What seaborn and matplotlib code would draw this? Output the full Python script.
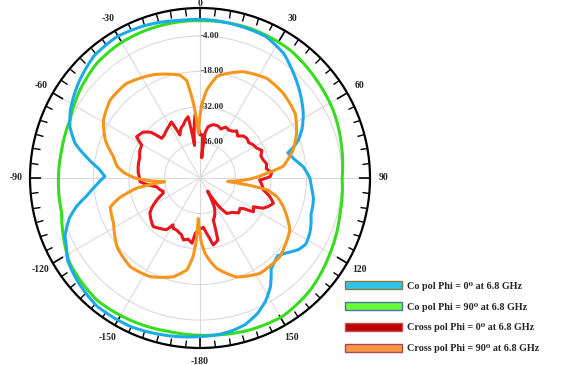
import numpy as np
import pandas as pd
import matplotlib
matplotlib.use('Agg')
import matplotlib.pyplot as plt
import matplotlib.transforms as mtransforms
from matplotlib.patches import Patch
import seaborn as sns

# ---------------- data (angle in degrees, level in dB) ----------------
co0_ang = [-180, -167, -155, -141, -130, -122, -117, -113, -107, -103, -99, -94, -89, -85, -80,
           -74.5, -68.5, -62, -52, -41, -30.5, -19, -7, 0, 7, 15, 25, 34, 41, 50, 58, 64, 69,
           72, 74, 76, 79, 84, 90, 95, 100, 104, 108, 113, 117, 122, 126, 131, 135, 139, 142,
           147, 152, 157, 163, 168, 174, 180]
co0_val = [2.5, 3.5, 4.6, 4.8, 3.1, 1.5, -0.9, -2.2, -6.2, -10.0, -14.8, -19.0, -22.5, -20.2, -15.0,
           -8.9, -4.9, -2.2, 0.8, 3.7, 4.6, 3.8, 2.6, 2.5, 2.3, 1.9, 1.5, -0.9, -4.3, -8.4, -12.0, -15.2, -18.5,
           -21.5, -24.0, -23.3, -22.0, -19.0, -16.7, -15.9, -14.6, -14.2, -14.0, -12.5, -11.5, -10.8, -12.0, -15.0, -16.7, -15.6, -14.5,
           -9.0, -5.0, -2.0, 0.5, 1.5, 2.2, 2.5]

co90_ang = [-180, -169, -154, -140, -123, -113, -104, -90, -79, -66, -54, -42, -31, -20, -7, 0,
            7, 18, 35, 50, 63, 77, 90, 104, 120, 135, 149, 162, 174, 180]
co90_val = [2.0, 1.7, 2.4, 3.0, 1.3, -1.5, -3.8, -4.2, -4.4, -3.9, -1.4, 0.8, 1.7, 2.0, 2.1, 2.0,
            2.1, 2.2, 1.7, 0.0, -1.1, -2.8, -4.0, -3.1, -0.8, 1.9, 3.5, 3.0, 2.2, 2.0]

x0_ang = [-180, -177, -175, -173, -169, -165, -162, -160, -156, -152, -150, -147, -141, -136, -131,
          -125, -122, -117, -112.5, -110, -106, -101.5, -97, -93.5, -88, -85.5, -79, -71, -66, -60.5,
          -57, -51, -47, -44, -40, -35, -30, -27, -25, -21, -17.5, -14, -11, -9.5, -7, -4.5, -2, 0,
          3.5, 4.8, 6.5, 9, 14, 19, 23, 27, 31, 35, 38, 42, 46, 50, 54, 58, 62, 66, 70, 74, 78, 82,
          86, 89, 92, 96, 100.7, 105, 109, 113, 115.6, 118.3, 122.3, 125, 127.2, 132, 137, 142.9,
          146, 150, 154, 157, 160, 162.4, 164, 168.8, 171, 173.1, 176, 180]
x0_val = [-40.0, -39.0, -38.0, -34.1, -35.5, -34.7, -36.5, -36.8, -37.5, -37.5, -38.7, -35.7, -34.5, -33.4, -34.5,
          -35.9, -37.5, -40.9, -44.3, -44.6, -43.5, -42.6, -39.0, -36.3, -36.0, -35.6, -35.2, -34.9, -34.0, -33.6,
          -30.2, -31.2, -33.6, -38.3, -38.0, -37.0, -36.0, -35.2, -41.3, -39.0, -38.1, -36.5, -35.4, -47.0, -41.0, -35.1, -40.0, -43.0,
          -43.0, -52.0, -42.0, -39.5, -38.3, -38.3, -39.0, -37.5, -38.0, -37.5, -36.5, -37.8, -36.2, -35.8, -36.3, -35.3, -34.8, -33.3, -34.5, -34.1, -33.2, -33.6,
          -31.7, -32.4, -36.5, -35.5, -34.6, -31.5, -29.4, -31.0, -32.5, -36.1, -35.1, -39.0, -40.2, -39.5, -41.5, -42.5,
          -46.0, -54.0, -47.0, -45.0, -43.5, -42.7, -34.5, -33.1, -36.0, -38.0, -40.5, -40.0]

x90_ang = [-180, -177.6, -176.5, -175, -172, -165, -153, -142, -130, -118, -108, -104, -99, -96, -90.5,
           -86, -82, -76, -68, -59, -49, -38, -24, -11, -7.8, -5, -2, 1.3, 4.4, 9.4, 11, 22, 34, 44.5,
           56, 65, 73, 82, 86, 91, 95.5, 97, 98.5, 100, 104, 109, 120, 134.5, 148, 160, 169.5, 172,
           176, 179, 180]
x90_val = [-38.0, -44.0, -35.0, -29.0, -23.5, -19.7, -16.4, -15.5, -17.4, -21.5, -22.8, -27.0, -35.0, -46.0, -35.0,
           -30.0, -27.0, -24.8, -19.7, -15.6, -13.1, -12.8, -15.4, -18.7, -21.2, -30.5, -42.4, -31.2, -25.2, -19.5, -18.7, -14.8, -12.7, -13.2,
           -14.7, -18.0, -21.6, -26.9, -33.7, -40.0, -47.0, -49.0, -40.0, -33.0, -28.5, -25.3, -19.1, -15.8, -15.6, -18.5, -23.8, -26.0,
           -30.0, -35.0, -38.0]

series_names = ["Co pol Phi = 0\u2070 at 6.8 GHz", "Co pol Phi = 90\u2070 at 6.8 GHz",
                "Cross pol Phi = 0\u2070 at 6.8 GHz", "Cross pol Phi = 90\u2070 at 6.8 GHz"]
line_colors = ["#1CAAE8", "#36DC1E", "#E8171D", "#F5951E"]
patch_faces = ["#2EC6E8", "#66FF33", "#C00000", "#F79646"]
patch_edges = ["#8C7B4A", "#4A6FB5", "#C0504D", "#A84850"]

theta_labels = [0, 30, 60, 90, 120, 150, -180, -150, -120, -90, -60, -30]
r_grid = [-46, -32, -18, -4]
r_min, r_max = -60, 7

# ---------------- build table ----------------
frames = []
for name, ang, val in [(series_names[0], co0_ang, co0_val), (series_names[1], co90_ang, co90_val),
                       (series_names[2], x0_ang, x0_val), (series_names[3], x90_ang, x90_val)]:
    frames.append(pd.DataFrame({"theta": np.deg2rad(ang), "r": val, "series": name}))
df = pd.concat(frames, ignore_index=True)

sns.set_theme(style="ticks")
plt.rcParams['font.family'] = ['Liberation Serif', 'DejaVu Serif']
plt.rcParams['font.weight'] = 'bold'

W, H = 569, 365
fig = plt.figure(figsize=(W / 100, H / 100), dpi=100)
cx, cy, R = 200, 178, 170
ax = fig.add_axes([(cx - R) / W, (H - cy - R) / H, 2 * R / W, 2 * R / H], projection='polar')
ax.set_theta_zero_location('N')
ax.set_theta_direction(-1)

draw_order = [series_names[1], series_names[0], series_names[2], series_names[3]]
pal = dict(zip(series_names, line_colors))
for nm in draw_order:
    sns.lineplot(data=df[df.series == nm], x="theta", y="r", color=pal[nm], sort=False,
                 estimator=None, linewidth=2.2, ax=ax, legend=False, zorder=3)
# draw segments as curves in polar space (rendering only)
for ln in ax.lines:
    ln.get_path()._interpolation_steps = 40

ax.set_ylim(r_min, r_max)
ax.set_xlabel("")
ax.set_ylabel("")

# grid and ticks
ax.set_xticks(np.deg2rad(np.arange(0, 360, 30)))
ax.set_xticks(np.deg2rad(np.arange(0, 360, 5)), minor=True)
ax.set_xticklabels([])
ax.set_yticks(r_grid)
ax.set_yticklabels([])
ax.grid(True, which='major', color='#dadada', linewidth=0.8)
ax.xaxis.grid(False, which='minor')
ax.tick_params(axis='x', which='major', direction='in', length=8, width=1.2, color='black', bottom=False, top=True)
ax.tick_params(axis='x', which='minor', direction='in', length=5, width=1.0, color='black', bottom=False, top=True)
ax.tick_params(axis='y', length=0)
ax.spines['polar'].set_color('black')
ax.spines['polar'].set_linewidth(1.6)

# radial labels
off = mtransforms.offset_copy(ax.transData, fig=fig, x=1, y=0, units='dots')
for v in r_grid:
    ax.text(0, v, f"{v:.2f}", transform=off, ha='left', va='center', fontsize=6.5,
            fontweight='bold', color='#2a2a2a', zorder=1)

# angle labels
r_lab = r_max + 14 * (r_max - r_min) / R
r_top = r_max + 4.5 * (r_max - r_min) / R
for a in theta_labels:
    rr = r_top if a == 0 else r_lab
    ax.text(np.deg2rad(a), rr, str(a), ha='center', va='center', fontsize=7,
            fontweight='bold', color='#222222', clip_on=False)

# legend
handles = [Patch(facecolor=f, edgecolor=e, linewidth=1.0) for f, e in zip(patch_faces, patch_edges)]
fig.legend(handles, series_names, loc='upper left', bbox_to_anchor=(345 / W, 1 - 281 / H),
           frameon=False, handlelength=5.6, handleheight=0.9, handletextpad=0.5,
           labelspacing=1.1, borderpad=0, borderaxespad=0,
           prop={'weight': 'bold', 'size': 7.3})

fig.savefig("out.png", dpi=100)
